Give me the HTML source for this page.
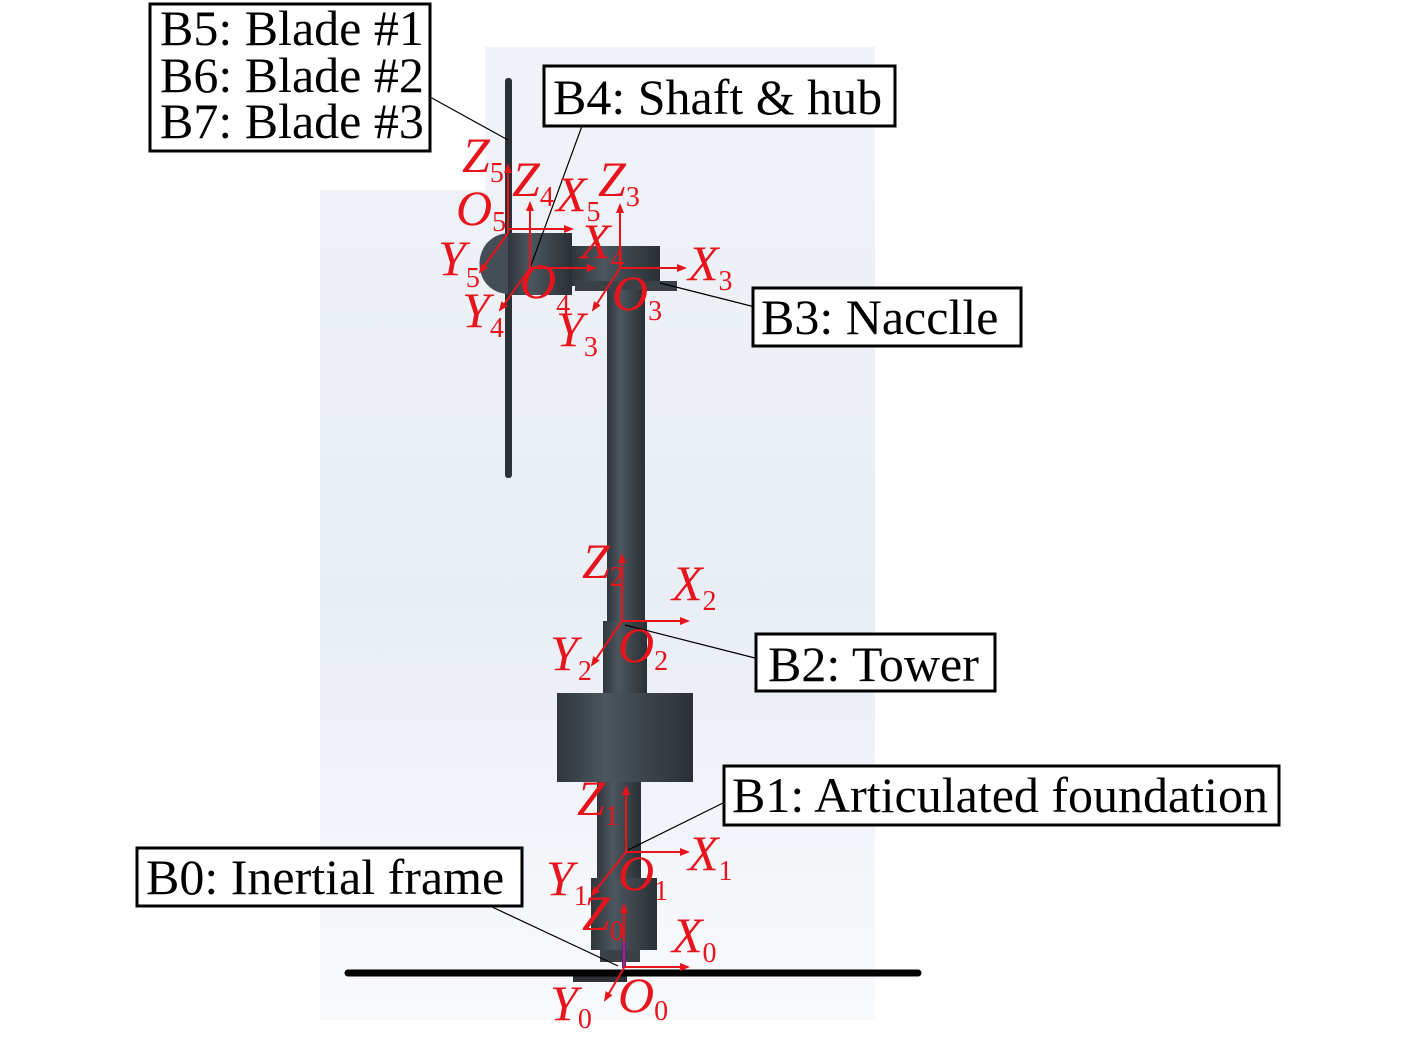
<!DOCTYPE html>
<html><head><meta charset="utf-8"><style>
html,body{margin:0;padding:0;background:#fff;}
svg{display:block;}
.lb{font-family:"Liberation Serif",serif;font-size:50px;fill:#000;}
.r{font-family:"Liberation Serif",serif;font-style:italic;font-size:50px;fill:#e8141c;}
.s{font-family:"Liberation Serif",serif;font-style:normal;font-size:28px;fill:#e8141c;}
</style></head><body>
<svg width="1418" height="1049" viewBox="0 0 1418 1049" xmlns="http://www.w3.org/2000/svg">
<defs>
<linearGradient id="bg" x1="0" y1="0" x2="0" y2="1">
<stop offset="0" stop-color="#eef2f7"/><stop offset="0.5" stop-color="#e9eef5"/><stop offset="1" stop-color="#f9fafc"/>
</linearGradient>
<linearGradient id="cyl" x1="0" y1="0" x2="1" y2="0">
<stop offset="0" stop-color="#2f363c"/><stop offset="0.35" stop-color="#4c565e"/><stop offset="1" stop-color="#2a3035"/>
</linearGradient>
<marker id="a" markerWidth="10" markerHeight="10" refX="8" refY="5" orient="auto" markerUnits="userSpaceOnUse"><path d="M0,1 L10,5 L0,9 z" fill="#e8141c"/></marker>
</defs>
<rect x="320" y="190" width="555" height="830" fill="url(#bg)"/>
<rect x="485" y="47" width="390" height="150" fill="#eff3f8"/>
<!-- structure -->
<rect x="505" y="78" width="7" height="400" rx="3" fill="#2b3136"/>
<path d="M508,233 C470,236 470,292 508,294 z" fill="#454e56"/>
<rect x="508" y="233" width="64" height="62" fill="url(#cyl)"/>
<rect x="572" y="246" width="88" height="40" fill="url(#cyl)"/>
<rect x="575" y="281" width="102" height="10" fill="#3a4248"/>
<rect x="607" y="290" width="38" height="332" fill="url(#cyl)"/>
<rect x="603" y="621" width="44" height="72" fill="url(#cyl)"/>
<rect x="557" y="693" width="136" height="89" fill="url(#cyl)"/>
<rect x="597" y="782" width="44" height="98" fill="url(#cyl)"/>
<rect x="591" y="878" width="66" height="72" fill="url(#cyl)"/>
<rect x="600" y="950" width="40" height="12" fill="#3a4248"/>
<rect x="573" y="972" width="54" height="10" fill="#2b3136"/>
<line x1="348" y1="973" x2="918" y2="973" stroke="#000" stroke-width="7" stroke-linecap="round"/>
<line x1="624" y1="942" x2="624" y2="968" stroke="#2233dd" stroke-width="4"/>
<!-- leader lines -->
<g stroke="#000" stroke-width="1.2" fill="none">
<line x1="430" y1="97" x2="508" y2="140"/>
<line x1="582" y1="126" x2="530" y2="268"/>
<line x1="755" y1="307" x2="660" y2="283"/>
<line x1="755" y1="658" x2="625" y2="625"/>
<line x1="723" y1="803" x2="628" y2="850"/>
<line x1="490" y1="906" x2="618" y2="966"/>
</g>
<!-- frames -->
<g stroke="#e8141c" stroke-width="2" marker-end="url(#a)">
<line x1="508" y1="233" x2="508" y2="165"/><line x1="508" y1="229" x2="572" y2="229"/><line x1="508" y1="233" x2="480" y2="272"/>
<line x1="530" y1="268" x2="530" y2="203"/><line x1="530" y1="268" x2="595" y2="268"/><line x1="530" y1="268" x2="500" y2="310"/>
<line x1="620" y1="268" x2="620" y2="205"/><line x1="620" y1="268" x2="685" y2="268"/><line x1="620" y1="268" x2="593" y2="310"/>
<line x1="622" y1="621" x2="622" y2="555"/><line x1="622" y1="621" x2="688" y2="621"/><line x1="622" y1="621" x2="592" y2="665"/>
<line x1="626" y1="852" x2="626" y2="787"/><line x1="626" y1="852" x2="688" y2="852"/><line x1="626" y1="852" x2="592" y2="895"/>
<line x1="624" y1="968" x2="624" y2="905"/><line x1="624" y1="967" x2="688" y2="967"/><line x1="624" y1="968" x2="605" y2="1000"/>
</g>
<!-- axis labels -->
<text class="r" x="462" y="172">Z<tspan class="s" dy="10">5</tspan></text>
<text class="r" x="512" y="196">Z<tspan class="s" dy="10">4</tspan></text>
<text class="r" x="556" y="211">X<tspan class="s" dy="10">5</tspan></text>
<text class="r" x="598" y="196">Z<tspan class="s" dy="10">3</tspan></text>
<text class="r" x="456" y="225">O<tspan class="s" dy="6">5</tspan></text>
<text class="r" x="580" y="258">X<tspan class="s" dy="10">4</tspan></text>
<text class="r" x="688" y="280">X<tspan class="s" dy="10">3</tspan></text>
<text class="r" x="438" y="275">Y<tspan class="s" dy="12">5</tspan></text>
<text class="r" x="520" y="298">O<tspan class="s" dy="16">4</tspan></text>
<text class="r" x="612" y="310">O<tspan class="s" dy="10">3</tspan></text>
<text class="r" x="462" y="327">Y<tspan class="s" dy="10">4</tspan></text>
<text class="r" x="556" y="346">Y<tspan class="s" dy="10">3</tspan></text>
<text class="r" x="582" y="578">Z<tspan class="s" dy="8">2</tspan></text>
<text class="r" x="672" y="600">X<tspan class="s" dy="10">2</tspan></text>
<text class="r" x="550" y="670">Y<tspan class="s" dy="10">2</tspan></text>
<text class="r" x="618" y="662">O<tspan class="s" dy="8">2</tspan></text>
<text class="r" x="577" y="815">Z<tspan class="s" dy="10">1</tspan></text>
<text class="r" x="688" y="870">X<tspan class="s" dy="10">1</tspan></text>
<text class="r" x="546" y="895">Y<tspan class="s" dy="10">1</tspan></text>
<text class="r" x="618" y="890">O<tspan class="s" dy="10">1</tspan></text>
<text class="r" x="582" y="930">Z<tspan class="s" dy="10">0</tspan></text>
<text class="r" x="672" y="952">X<tspan class="s" dy="10">0</tspan></text>
<text class="r" x="550" y="1020">Y<tspan class="s" dy="8">0</tspan></text>
<text class="r" x="618" y="1012">O<tspan class="s" dy="8">0</tspan></text>
<!-- boxes -->
<g fill="#fff" stroke="#000" stroke-width="3">
<rect x="150" y="4" width="280" height="147"/>
<rect x="544" y="66" width="351" height="60"/>
<rect x="753" y="288" width="268" height="58"/>
<rect x="756" y="634" width="239" height="57"/>
<rect x="724" y="766" width="555" height="59"/>
<rect x="137" y="848" width="385" height="58"/>
</g>
<text class="lb" x="160" y="45">B5: Blade #1</text>
<text class="lb" x="160" y="92">B6: Blade #2</text>
<text class="lb" x="160" y="138">B7: Blade #3</text>
<text class="lb" x="553" y="114">B4: Shaft &amp; hub</text>
<text class="lb" x="761" y="334">B3: Nacclle</text>
<text class="lb" x="768" y="681">B2: Tower</text>
<text class="lb" x="732" y="812">B1: Articulated foundation</text>
<text class="lb" x="146" y="894">B0: Inertial frame</text>
</svg>
</body></html>
